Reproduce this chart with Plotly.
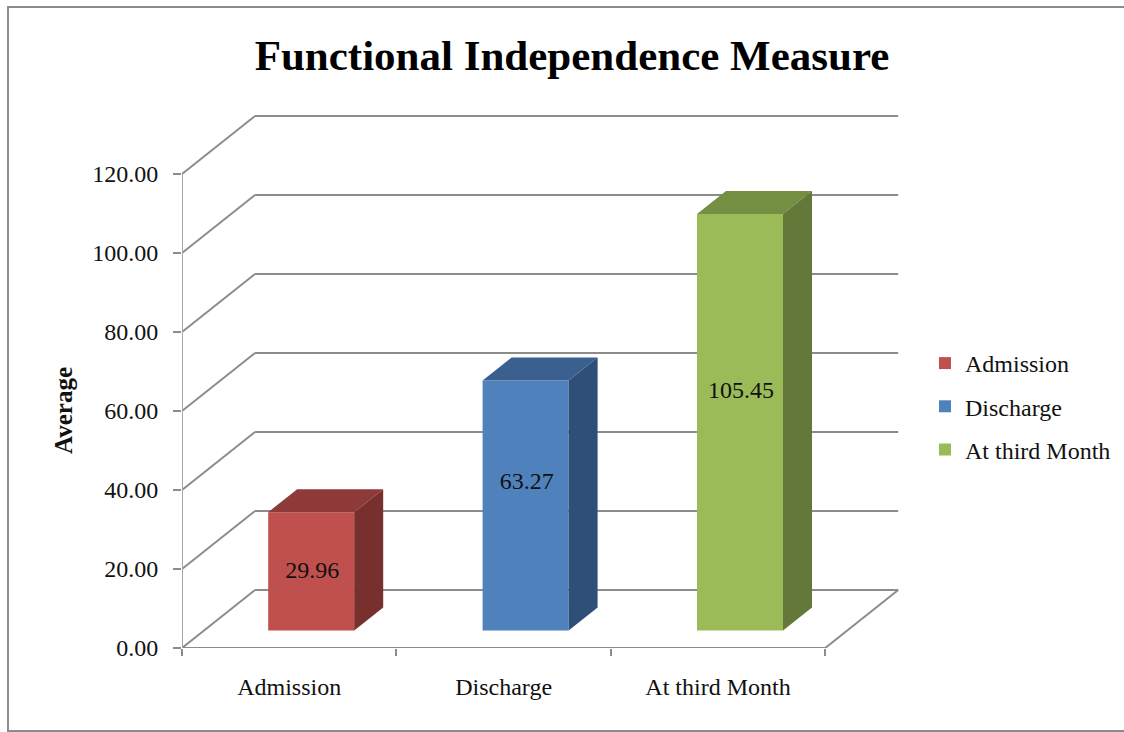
import plotly.graph_objects as go

# Chart data
categories = ["Admission", "Discharge", "At third Month"]
averages = [29.96, 63.27, 105.45]
label_heights = [19.3, 41.9, 64.9]
y_ticks = [0, 20, 40, 60, 80, 100, 120]
front_colors = ["#C0504D", "#4F81BD", "#9BBB59"]
top_colors = ["#8E3A38", "#3A6090", "#748E42"]
side_colors = ["#78302E", "#2F4F78", "#64783A"]

# Pixel geometry of the faux 3D box
W, H = 1124, 732
PLOT_L, PLOT_R = 182, 899
PLOT_T, PLOT_B = 110, 648
PLOT_W, PLOT_H = PLOT_R - PLOT_L, PLOT_B - PLOT_T
UNIT_Y = 3.95
UNIT_X = 214.4

to_x = lambda px: px / UNIT_X
to_y = lambda px: px / UNIT_Y
paper_x = lambda px: (px - PLOT_L) / PLOT_W
paper_y = lambda px: (PLOT_B - px) / PLOT_H

WALL_DX, WALL_DY = to_x(73), to_y(58)       # front plane to back wall
BAR_DX, BAR_DY = to_x(22), to_y(17.5)       # front plane to bar front
DEPTH_DX, DEPTH_DY = to_x(29), to_y(23)     # bar depth
BAR_W = 86 / UNIT_X
X_MIN, X_MAX = -0.5, 2.5
GRID = "#8C8C8C"
SERIF = "Liberation Serif"
INK = "#111111"


def edge(xs, ys, width=2, color=GRID):
    # One polyline of the box wireframe, as shapes so it sits behind the bars
    return [dict(type="line", xref="x", yref="y", layer="below",
                 x0=xs[i], y0=ys[i], x1=xs[i + 1], y1=ys[i + 1],
                 line=dict(color=color, width=width))
            for i in range(len(xs) - 1)]


def poly(xs, ys, color):
    return go.Scatter(x=xs, y=ys, mode="lines", fill="toself", fillcolor=color,
                      line=dict(width=0, color=color), showlegend=False,
                      hoverinfo="skip", cliponaxis=False)


shapes = [dict(type="rect", xref="paper", yref="paper", layer="below",
               x0=paper_x(8), x1=paper_x(W + 10), y0=paper_y(731), y1=paper_y(7),
               line=dict(color=GRID, width=2))]

# Back wall gridlines and side wall diagonals
for v in y_ticks:
    shapes += edge([X_MIN, X_MIN + WALL_DX, X_MAX + WALL_DX],
                   [v, v + WALL_DY, v + WALL_DY])

# Floor and vertical edge of the side wall
shapes += edge([X_MIN, X_MAX, X_MAX + WALL_DX], [0, 0, WALL_DY])
shapes += edge([X_MIN, X_MIN], [0, y_ticks[-1]], 2, "#A6A6A6")

fig = go.Figure()

# Bars: front face from the axis scale, then top and side faces offset by the depth
for i, (cat, val) in enumerate(zip(categories, averages)):
    cx = i + BAR_DX
    left, right = cx - BAR_W / 2, cx + BAR_W / 2
    low, high = BAR_DY, BAR_DY + val
    fig.add_trace(go.Bar(x=[cx], y=[val], base=[BAR_DY], width=BAR_W, name=cat,
                         marker=dict(color=front_colors[i], line=dict(width=0)),
                         legendgroup=cat, hoverinfo="skip"))
    fig.add_trace(poly([left, right, right + DEPTH_DX, left + DEPTH_DX, left],
                       [high, high, high + DEPTH_DY, high + DEPTH_DY, high],
                       top_colors[i]))
    fig.add_trace(poly([right, right + DEPTH_DX, right + DEPTH_DX, right, right],
                       [low, low + DEPTH_DY, high + DEPTH_DY, high, low],
                       side_colors[i]))

# Value labels on the front faces
fig.add_trace(go.Scatter(
    x=[i + BAR_DX + 0.005 for i in range(3)], y=label_heights, mode="text",
    text=[f"{v:.2f}" for v in averages], textposition="middle center",
    textfont=dict(family=SERIF, size=24, color=INK),
    showlegend=False, hoverinfo="skip", cliponaxis=False))

fig.update_layout(
    width=W, height=H, autosize=False,
    margin=dict(l=PLOT_L, r=W - PLOT_R, t=PLOT_T, b=H - PLOT_B, pad=0, autoexpand=False),
    paper_bgcolor="white", plot_bgcolor="rgba(0,0,0,0)",
    barmode="overlay", hovermode=False,
    font=dict(family=SERIF, color=INK),
    title=dict(text="<b>Functional Independence Measure</b>",
               x=572 / W, xanchor="center", y=1 - 55 / H, yanchor="middle",
               font=dict(family=SERIF, size=43, color="black")),
    legend=dict(x=paper_x(925), xanchor="left", y=paper_y(341), yanchor="top",
                bgcolor="rgba(0,0,0,0)", tracegroupgap=9, itemwidth=30,
                font=dict(family=SERIF, size=24, color=INK)),
    xaxis=dict(range=[X_MIN, X_MIN + PLOT_W / UNIT_X],
               tickmode="array", tickvals=[0, 1, 2], ticktext=categories,
               ticks="", ticklen=0, showgrid=False, zeroline=False, showline=False,
               ticklabelstandoff=22,
               tickfont=dict(family=SERIF, size=24, color=INK),
               minor=dict(tickmode="array", tickvals=[-0.5, 0.5, 1.5, 2.5],
                          ticks="outside", ticklen=7, tickcolor=GRID, tickwidth=1.5,
                          showgrid=False)),
    yaxis=dict(range=[0, PLOT_H / UNIT_Y],
               tickmode="array", tickvals=y_ticks, tickformat=".2f",
               ticks="outside", ticklen=8, tickcolor=GRID, tickwidth=2,
               showgrid=False, zeroline=False, showline=False,
               ticklabelstandoff=10,
               tickfont=dict(family=SERIF, size=24, color=INK)),
    annotations=[dict(text="<b>Average</b>", textangle=-90, showarrow=False,
                      xref="paper", yref="paper", x=paper_x(63), y=paper_y(411),
                      xanchor="center", yanchor="middle",
                      font=dict(family=SERIF, size=25, color=INK))],
    shapes=shapes,
)

fig.write_html("out.html", config=dict(displayModeBar=False))
